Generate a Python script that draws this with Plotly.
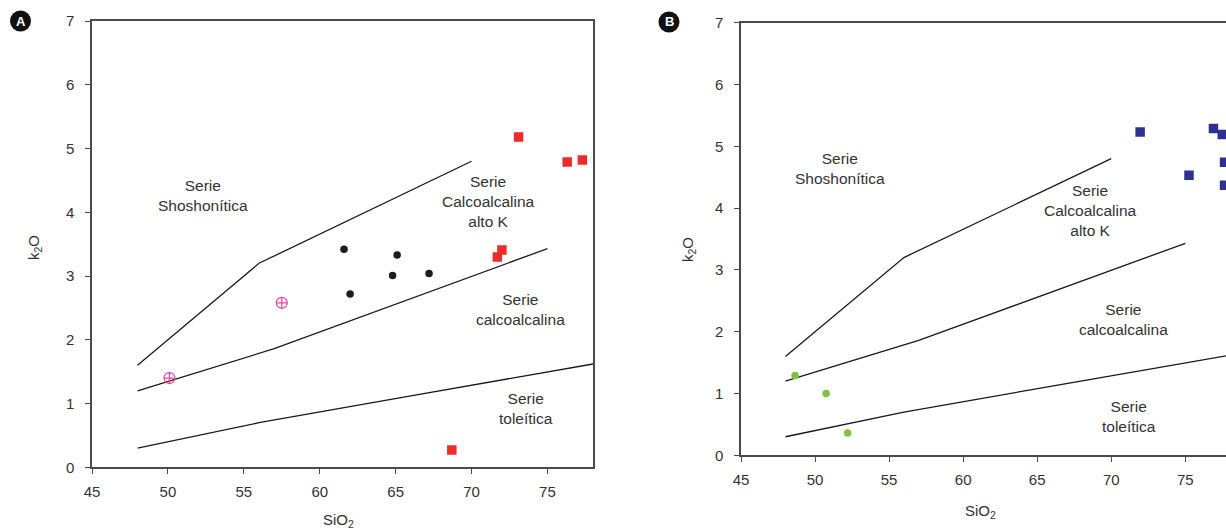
import plotly.graph_objects as go

W, H = 1226, 532

# --- Boundary lines (SiO2, K2O) of the series fields ---
sho_x = [48, 56, 70]
sho_y = [1.6, 3.2, 4.8]
hik_x = [48, 57, 75]
hik_y = [1.2, 1.86, 3.43]
tho_x = [48, 56, 66, 78]
tho_y = [0.3, 0.7, 1.12, 1.62]

# --- Panel A samples ---
a_pink_x = [50.1, 57.5]
a_pink_y = [1.40, 2.58]
a_black_x = [61.6, 65.1, 64.8, 67.2, 62.0]
a_black_y = [3.42, 3.33, 3.01, 3.04, 2.72]
a_red_x = [73.1, 76.3, 77.3, 72.0, 71.7, 68.7]
a_red_y = [5.18, 4.79, 4.82, 3.41, 3.30, 0.27]

# --- Panel B samples ---
b_green_x = [48.65, 50.75, 52.2]
b_green_y = [1.29, 1.00, 0.36]
b_blue_x = [71.95, 76.9, 77.5, 75.25, 77.65, 77.65]
b_blue_y = [5.23, 5.29, 5.19, 4.53, 4.74, 4.37]

# --- Field labels: (text, x, y) for each panel ---
labels_a = [
    ("Serie<br>Shoshonítica", 52.3, 4.26),
    ("Serie<br>Calcoalcalina<br>alto K", 71.1, 4.17),
    ("Serie<br>calcoalcalina", 73.2, 2.48),
    ("Serie<br>toleítica", 73.6, 0.93),
]
labels_b = [
    ("Serie<br>Shoshonítica", 51.7, 4.64),
    ("Serie<br>Calcoalcalina<br>alto K", 68.6, 3.96),
    ("Serie<br>calcoalcalina", 70.85, 2.2),
    ("Serie<br>toleítica", 71.2, 0.62),
]

x_ticks = [45, 50, 55, 60, 65, 70, 75]
y_ticks = [0, 1, 2, 3, 4, 5, 6, 7]

FONT = "Liberation Sans, Arial, Helvetica, sans-serif"
TXT = "#333333"
AX = "#4a4a4a"

fig = go.Figure()

def add_lines(xa, ya):
    for xs, ys in [(sho_x, sho_y), (hik_x, hik_y), (tho_x, tho_y)]:
        fig.add_trace(go.Scatter(x=xs, y=ys, mode="lines", xaxis=xa, yaxis=ya,
                                 line=dict(color="#1a1a1a", width=1.3),
                                 hoverinfo="skip", showlegend=False))

add_lines("x", "y")
add_lines("x2", "y2")

fig.add_trace(go.Scatter(x=a_pink_x, y=a_pink_y, mode="markers", xaxis="x", yaxis="y",
                         marker=dict(symbol="circle-cross-open", size=11, color="#e8449a",
                                     line=dict(width=1.2, color="#e8449a")),
                         showlegend=False))
fig.add_trace(go.Scatter(x=a_black_x, y=a_black_y, mode="markers", xaxis="x", yaxis="y",
                         marker=dict(symbol="circle", size=7.5, color="#1c1c1c"),
                         showlegend=False))
fig.add_trace(go.Scatter(x=a_red_x, y=a_red_y, mode="markers", xaxis="x", yaxis="y",
                         marker=dict(symbol="square", size=9.5, color="#ee2b2b"),
                         showlegend=False))
fig.add_trace(go.Scatter(x=b_green_x, y=b_green_y, mode="markers", xaxis="x2", yaxis="y2",
                         marker=dict(symbol="circle", size=7.5, color="#7dc242"),
                         showlegend=False))
fig.add_trace(go.Scatter(x=b_blue_x, y=b_blue_y, mode="markers", xaxis="x2", yaxis="y2",
                         marker=dict(symbol="square", size=9.5, color="#2e3192"),
                         showlegend=False))

annotations = []
for xa, ya, labs in [("x", "y", labels_a), ("x2", "y2", labels_b)]:
    for t, x, y in labs:
        annotations.append(dict(text=t, x=x, y=y, xref=xa, yref=ya, showarrow=False,
                                xanchor="center", yanchor="middle",
                                font=dict(family=FONT, size=15.5, color=TXT),
                                align="center"))

# axis titles
for t, px, py, ang in [("k<sub>2</sub>O", 34, 248, -90), ("SiO<sub>2</sub>", 339, 520, 0),
                       ("k<sub>2</sub>O", 688, 250, -90), ("SiO<sub>2</sub>", 981, 511, 0)]:
    annotations.append(dict(text=t, x=px / W, y=1 - py / H, xref="paper", yref="paper",
                            showarrow=False, textangle=ang,
                            xanchor="center", yanchor="middle",
                            font=dict(family=FONT, size=15, color=TXT)))

# panel letters: dark disc with a white bold letter
shapes = []
for letter, px, py in [("A", 20.5, 21), ("B", 669, 22)]:
    shapes.append(dict(type="circle", xref="paper", yref="paper",
                       xsizemode="pixel", ysizemode="pixel",
                       xanchor=px / W, yanchor=1 - py / H,
                       x0=-10.5, x1=10.5, y0=-10.5, y1=10.5,
                       fillcolor="#111111", line=dict(width=0), layer="below"))
    annotations.append(dict(text="<b>%s</b>" % letter, x=px / W, y=1 - py / H,
                            xref="paper", yref="paper", showarrow=False,
                            xanchor="center", yanchor="middle",
                            font=dict(family=FONT, size=13, color="white")))

axis_common = dict(showgrid=False, zeroline=False, showline=True, linecolor=AX,
                   linewidth=1.5, ticks="outside", ticklen=5, tickcolor=AX,
                   tickwidth=1.2, tickfont=dict(family=FONT, size=15, color=TXT))

fig.update_layout(
    width=W, height=H,
    margin=dict(l=0, r=0, t=0, b=0, pad=0, autoexpand=False),
    paper_bgcolor="white", plot_bgcolor="white",
    xaxis=dict(domain=[92 / W, 593 / W], range=[45, 78], tickvals=x_ticks,
               mirror=True, anchor="y", ticklabelstandoff=5, **axis_common),
    yaxis=dict(domain=[1 - 467.3 / H, 1 - 21 / H], range=[0, 7], tickvals=y_ticks,
               mirror=True, anchor="x", ticklabelstandoff=8, **axis_common),
    xaxis2=dict(domain=[741 / W, 1.0], range=[45, 45 + (W - 741) / 14.81], tickvals=x_ticks,
                mirror=True, anchor="y2", ticklabelstandoff=5, **axis_common),
    yaxis2=dict(domain=[1 - 455.3 / H, 1 - 22.7 / H], range=[0, 7], tickvals=y_ticks,
                mirror=False, anchor="x2", ticklabelstandoff=8, **axis_common),
    annotations=annotations,
    shapes=shapes,
)

fig.write_html("out.html")
